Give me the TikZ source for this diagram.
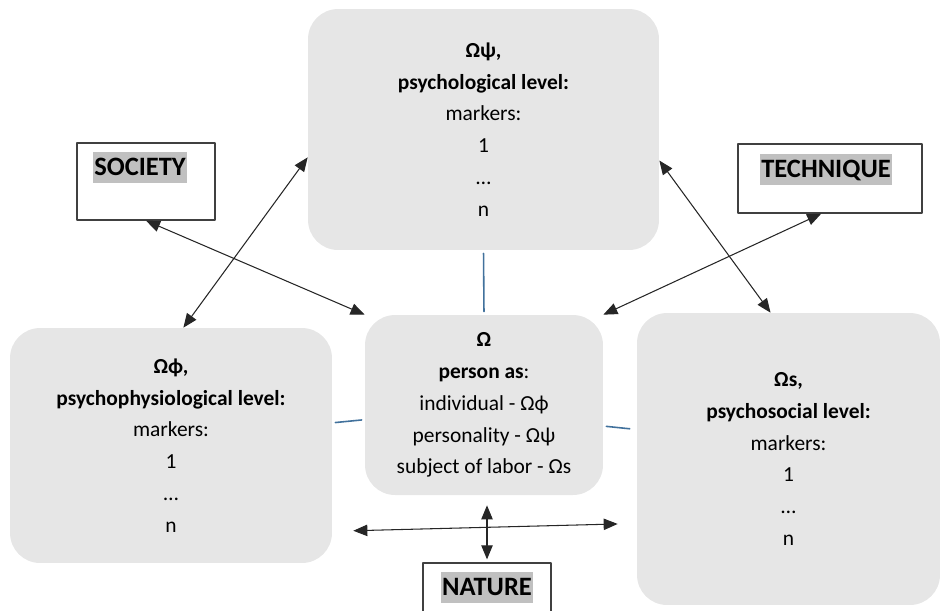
\documentclass[tikz,border=0pt]{standalone}
\usepackage{fontspec}
\setmainfont{Carlito}
\usetikzlibrary{arrows.meta}

\definecolor{boxgray}{HTML}{E6E6E6}
\definecolor{markgray}{HTML}{C0C0C0}
\definecolor{linkblue}{HTML}{41719C}

\tikzset{
  level/.style={fill=boxgray, rounded corners=0.6cm, align=center, inner sep=0pt,
    font=\fontsize{12.2}{18.1}\selectfont},
  frame/.style={draw=black!75, line width=0.75pt, fill=white, inner sep=0pt},
  tag/.style={fill=markgray, inner xsep=0.5pt, inner ysep=0pt, text height=13.3pt,
    text depth=4.2pt, font=\bfseries\fontsize{15.1}{18}\selectfont},
  link/.style={draw=linkblue, line width=0.9pt, shorten <=0.06cm, shorten >=0.06cm},
  relation/.style={<->, draw=black!85, line width=0.6pt},
}

\begin{document}
\begin{tikzpicture}[line cap=round,line join=round,>={Triangle[length=8pt,width=6.5pt]},x=0.02cm,y=-0.02cm]
\clip(0,0) rectangle (942,610);

% the three levels and the person
\node[level, minimum width=7.02cm, minimum height=4.82cm] (top) at (483.5,129.5)
  {\textbf{Ωψ,}\\ \textbf{psychological level:}\\ markers:\\ 1\\ \dots\\ n};
\node[level, minimum width=6.44cm, minimum height=4.7cm] (left) at (171,445.5)
  {\textbf{Ωϕ,}\\ \textbf{psychophysiological level:}\\ markers:\\ 1\\ \dots\\ n};
\node[level, minimum width=6.06cm, minimum height=5.84cm] (right) at (788.5,459)
  {\textbf{Ωs,}\\ \textbf{psychosocial level:}\\ markers:\\ 1\\ \dots\\ n};
\node[level, minimum width=4.76cm, minimum height=3.6cm] (center) at (484,405)
  {\textbf{Ω}\\ \textbf{person as}:\\ individual - Ωϕ\\ personality - Ωψ\\ subject of labor - Ωs};

% surroundings
\node[frame, minimum width=2.76cm, minimum height=1.54cm] (society) at (146,181.5) {};
\node[tag] (societytag) at (140,167.5) {SOCIETY};
\node[frame, minimum width=3.68cm, minimum height=1.38cm] (technique) at (830,178.5) {};
\node[tag] (techniquetag) at (826,169.5) {TECHNIQUE};
\node[frame, minimum width=2.56cm, minimum height=1.3cm] (nature) at (487,595.5) {};
\node[tag] (naturetag) at (487,587.5) {NATURE};

% links
\draw[link] (top.south) -- (center.north);
\draw[link] (left.8) -- (center.187.2);
\draw[link, shorten >=0.14cm] (center.350.5) -- (right.169.9);

% relations
\draw[relation] (society.south) -- (center.north west);
\draw[relation] (top.189.9) -- (left.84.1);
\draw[relation] (technique.256.9) -- (center.north east);
\draw[relation] (top.350.1) -- (right.97.2);
\draw[relation, shorten <=0.42cm, shorten >=0.38cm] (left.332.6) -- (right.203.9);
\draw[relation, shorten <=0.2cm, shorten >=0.06cm] (center.south -| nature.north) -- (nature.north);

\end{tikzpicture}
\end{document}
